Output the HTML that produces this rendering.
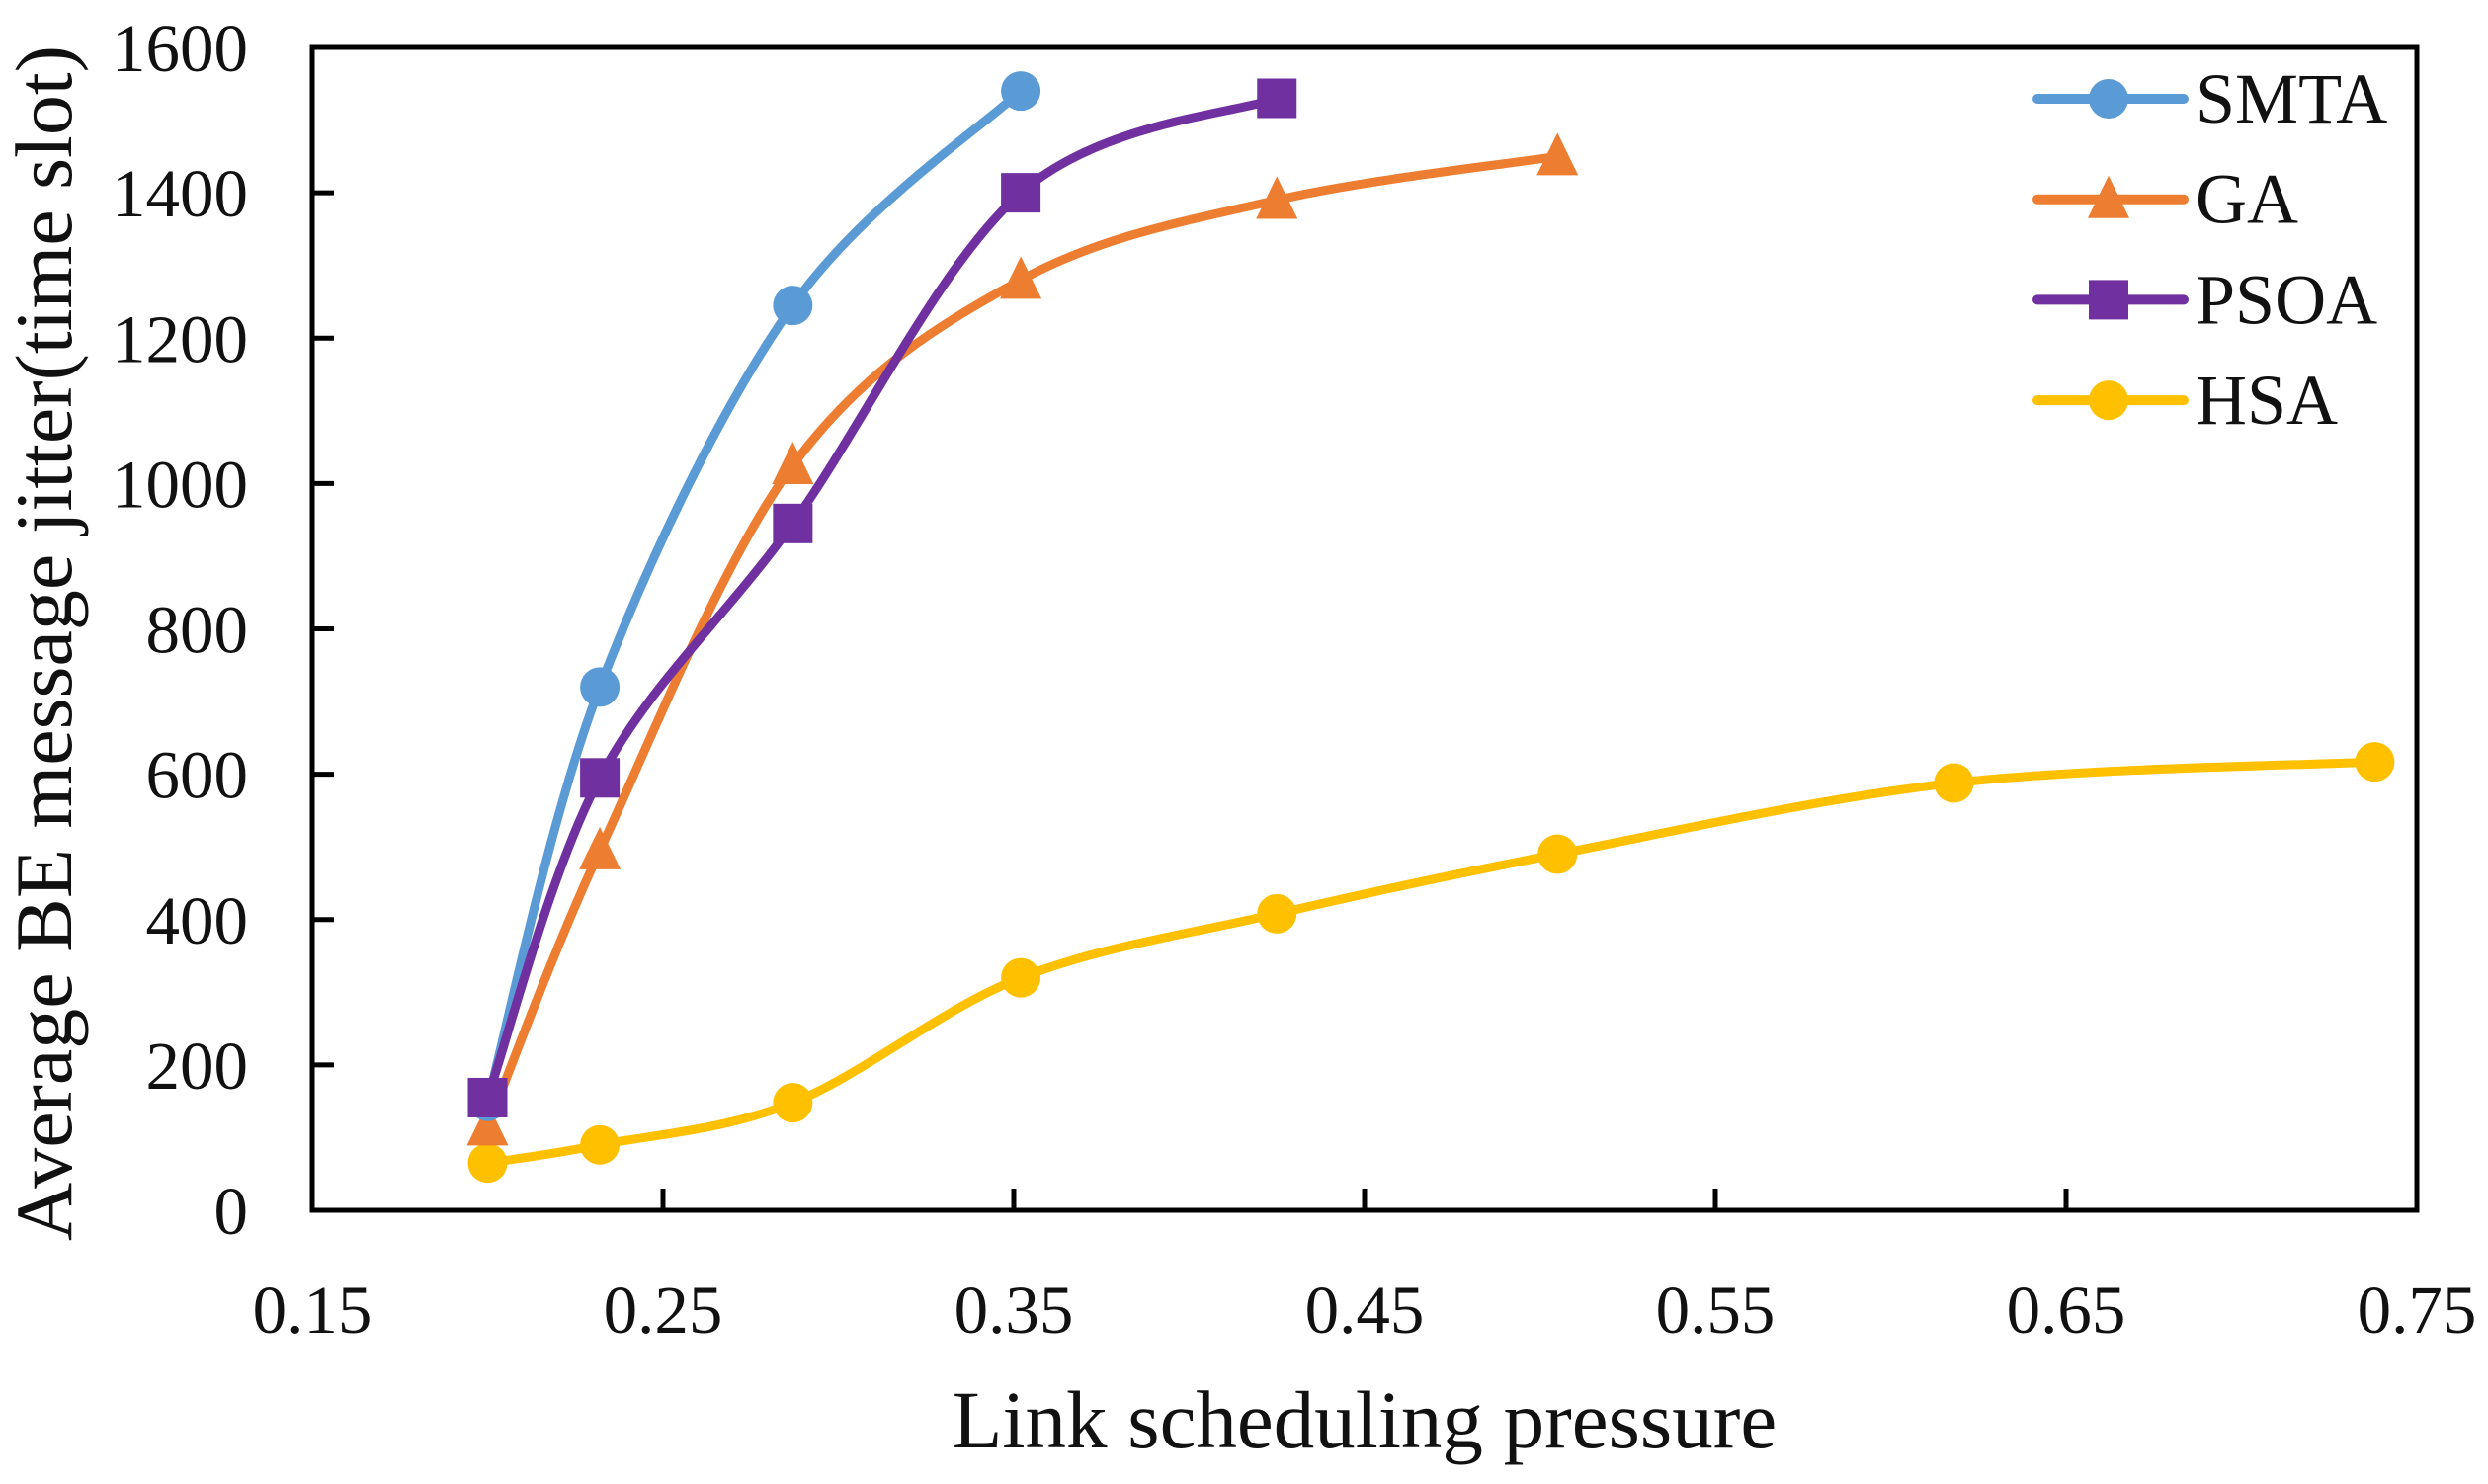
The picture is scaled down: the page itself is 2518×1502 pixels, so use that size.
<!DOCTYPE html>
<html><head><meta charset="utf-8"><style>
html,body{margin:0;padding:0;background:#fff;}
svg{display:block;font-family:"Liberation Serif",serif;}
</style></head><body>
<svg id="chart" width="2518" height="1502" viewBox="0 0 2518 1502">
<g id="plot"></g>
</svg>
<script>
const xTicks=[0.15,0.25,0.35,0.45,0.55,0.65,0.75];
const xTickLabels=["0.15","0.25","0.35","0.45","0.55","0.65","0.75"];
const yTicks=[0,200,400,600,800,1000,1200,1400,1600];
const seriesNames=["SMTA","GA","PSOA","HSA"];
const smtaX=[0.2,0.232,0.287,0.352];
const smtaY=[150,720,1245,1540];
const gaX=[0.2,0.232,0.287,0.352,0.425,0.505];
const gaY=[115,495,1025,1280,1390,1450];
const psoaX=[0.2,0.232,0.287,0.352,0.425];
const psoaY=[155,595,945,1400,1530];
const hsaX=[0.2,0.232,0.287,0.352,0.425,0.505,0.618,0.738];
const hsaY=[65,90,148,320,408,490,588,617];

const L=316,R=2446,T=48,B=1225;
const xs=v=>L+(v-0.15)/0.6*(R-L);
const ys=v=>B-v/1600*(B-T);
const NS="http://www.w3.org/2000/svg";
const g=document.getElementById('plot');
function el(tag,attrs,parent){const e=document.createElementNS(NS,tag);for(const k in attrs)e.setAttribute(k,attrs[k]);(parent||g).appendChild(e);return e;}

const frame=el('rect',{x:L,y:T,width:R-L,height:B-T,fill:'none',stroke:'#000','stroke-width':5});


xTicks.forEach((t,i)=>{
  const x=xs(t);
  if(i>0&&i<xTicks.length-1){const tk=el('line',{x1:x,x2:x,y1:B,y2:B-22,stroke:'#000','stroke-width':5});
  
  }
  const tx=el('text',{x:x,y:B+124,'font-size':69,'text-anchor':'middle',fill:'#111'});
  tx.textContent=xTickLabels[i];
  
  
});
yTicks.forEach((t,i)=>{
  const y=ys(t);
  if(i>0&&i<yTicks.length-1){const tk=el('line',{x1:L,x2:L+22,y1:y,y2:y,stroke:'#000','stroke-width':5});
  
  }
  const tx=el('text',{x:251,y:y+24,'font-size':69,'text-anchor':'end',fill:'#111'});
  tx.textContent=String(t);
  
  
});
const xt=el('text',{x:1381,y:1465,'font-size':83,'text-anchor':'middle',fill:'#111'});
xt.textContent='Link scheduling pressure';


const yt=el('text',{x:0,y:0,'font-size':82,'text-anchor':'middle',fill:'#111',transform:'translate(72,651) rotate(-90)'});
yt.textContent='Average BE message jitter(time slot)';



function smoothPath(px,py){
  let d='M'+px[0]+','+py[0];
  for(let i=0;i<px.length-1;i++){
    const x0=px[Math.max(i-1,0)],y0=py[Math.max(i-1,0)];
    const x1=px[i],y1=py[i],x2=px[i+1],y2=py[i+1];
    const x3=px[Math.min(i+2,px.length-1)],y3=py[Math.min(i+2,px.length-1)];
    const c1x=x1+(x2-x0)/6,c1y=y1+(y2-y0)/6,c2x=x2-(x3-x1)/6,c2y=y2-(y3-y1)/6;
    d+=' C'+c1x+','+c1y+' '+c2x+','+c2y+' '+x2+','+y2;
  }
  return d;
}
function marker(type,cx,cy,color,parent){
  let m;
  if(type==='circle')m=el('circle',{cx:cx,cy:cy,r:20,fill:color},parent);
  else if(type==='square')m=el('rect',{x:cx-20,y:cy-20,width:40,height:40,fill:color},parent);
  else m=el('polygon',{points:(cx)+','+(cy-24)+' '+(cx+21)+','+(cy+19)+' '+(cx-21)+','+(cy+19),fill:color},parent);
  return m;
}
const series=[
 {name:'hsa',x:hsaX,y:hsaY,color:'#FFC000',m:'circle'},
 {name:'ga',x:gaX,y:gaY,color:'#ED7D31',m:'triangle'},
 {name:'smta',x:smtaX,y:smtaY,color:'#5B9BD5',m:'circle'},
 {name:'psoa',x:psoaX,y:psoaY,color:'#7030A0',m:'square'}
];
series.forEach(s=>{
  const grp=el('g',{});
  
  
  const px=s.x.map(xs),py=s.y.map(ys);
  const p=el('path',{d:smoothPath(px,py),fill:'none',stroke:s.color,'stroke-width':9,'stroke-linecap':'round'},grp);
  
  
  px.forEach((x,i)=>{const m=marker(s.m,x,py[i],s.color,grp);
    
    });
});
const legColors=['#5B9BD5','#ED7D31','#7030A0','#FFC000'];
const legMarkers=['circle','triangle','square','circle'];
seriesNames.forEach((n,i)=>{
  const y=100+i*101.7;
  const lg=el('g',{});
  
  
  el('line',{x1:2062,x2:2210,y1:y,y2:y,stroke:legColors[i],'stroke-width':10,'stroke-linecap':'round'},lg);
  marker(legMarkers[i],2134,y,legColors[i],lg);
  const t=el('text',{x:2222,y:y+24,'font-size':72,fill:'#111'},lg);
  t.textContent=n;
});
</script>
</body></html>
